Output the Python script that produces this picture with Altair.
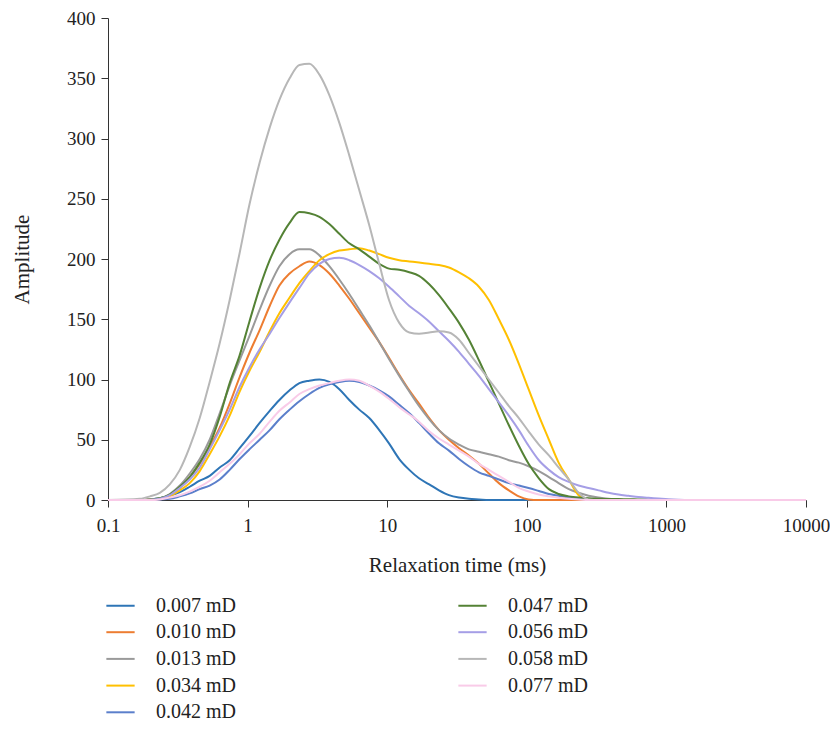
import altair as alt
import pandas as pd

# Shared sample positions along the relaxation-time axis (ms)
relaxation_time = [0.1, 0.169, 0.2, 0.235, 0.277, 0.327, 0.385, 0.454, 0.535, 0.631,
                   0.744, 0.877, 1.03, 1.22, 1.44, 1.69, 2.0, 2.35, 2.77, 3.27,
                   3.85, 4.54, 5.35, 6.31, 7.44, 8.77, 10.3, 12.2, 14.4, 16.9,
                   20.0, 23.5, 27.7, 32.7, 38.5, 45.4, 53.5, 63.1, 74.4, 87.7,
                   103, 122, 144, 169, 200, 235, 277, 327, 385, 454,
                   535, 631, 744, 877, 1030, 1220, 1440, 10000]

series_labels = ["0.007 mD", "0.010 mD", "0.013 mD", "0.034 mD", "0.042 mD",
                 "0.047 mD", "0.056 mD", "0.058 mD", "0.077 mD"]
series_colors = ["#2E75B6", "#ED7D31", "#9A9A9A", "#FFC000", "#5B7FCB",
                 "#548235", "#A59EE6", "#B7B7B7", "#F9CBE8"]

amp_0007 = [0, 0, 0.5, 1.5, 3.5, 6.5, 11, 16, 20, 27,
            33, 43, 53, 64, 74, 83, 91, 97, 99, 100,
            98, 92, 83, 75, 68, 58, 47, 34, 25, 18,
            13, 8, 4, 2, 1, 0.5, 0, 0, 0, 0,
            0, 0, 0, 0, 0, 0, 0, 0, 0, 0,
            0, 0, 0, 0, 0, 0, 0, 0]
amp_0010 = [0, 0, 0.3, 1, 4, 10, 19, 30, 44, 60,
            80, 102, 122, 141, 161, 178, 188, 194, 198, 195,
            188, 178, 167, 155, 143, 131, 118, 104, 91, 80,
            68, 58, 50, 43, 37, 30, 22, 14, 8, 3,
            0.5, 0, 0, 0, 0, 0, 0, 0, 0, 0,
            0, 0, 0, 0, 0, 0, 0, 0]
amp_0013 = [0, 0, 0.5, 1.5, 5, 12, 22, 34, 50, 72,
            95, 116, 136, 158, 178, 194, 204, 208, 208, 203,
            194, 183, 171, 158, 145, 131, 117, 103, 90, 78,
            67, 58, 51, 46, 42, 40, 38, 36, 33, 31,
            28, 24, 19, 14, 9, 6, 3.5, 2, 1, 0.5,
            0, 0, 0, 0, 0, 0, 0, 0]
amp_0034 = [0, 0, 0.3, 1, 3, 8, 14, 24, 38, 53,
            70, 90, 107, 123, 140, 155, 168, 180, 190, 199,
            204, 207, 208, 209, 207, 204, 201, 199, 198, 197,
            196, 195, 193, 189, 184, 177, 166, 150, 133, 113,
            92, 70, 50, 31, 17, 4, 0.5, 0, 0, 0,
            0, 0, 0, 0, 0, 0, 0, 0]
amp_0042 = [0, 0, 0, 0.5, 1, 3, 5.5, 9, 12, 17,
            25, 34, 42, 50, 58, 67, 75, 82, 88, 93,
            96, 98, 99, 98, 95, 91, 86, 79, 72, 64,
            55, 47, 41, 34, 28, 23, 20, 17, 14, 12,
            10, 7.5, 5, 3.5, 2, 1, 0.5, 0, 0, 0,
            0, 0, 0, 0, 0, 0, 0, 0]
amp_0047 = [0, 0, 0.5, 1.5, 4.5, 11, 19, 31, 46, 69,
            97, 120, 148, 176, 199, 216, 230, 239, 238, 235,
            229, 221, 213, 208, 202, 196, 192, 191, 189, 186,
            179, 170, 159, 147, 133, 116, 98, 80, 62, 45,
            30, 18, 9, 5, 3, 2, 1.5, 1, 0.9, 0.8,
            0.6, 0.5, 0.3, 0.2, 0, 0, 0, 0]
amp_0056 = [0, 0, 0.3, 1, 4, 10, 17, 27, 42, 58,
            75, 94, 110, 125, 138, 151, 164, 176, 188, 196,
            200, 201, 199, 195, 190, 184, 177, 169, 161, 155,
            148, 140, 132, 123, 113, 103, 92, 81, 70, 58,
            45, 33, 25, 19, 15, 12, 10, 8, 6, 4.5,
            3.5, 2.5, 1.8, 1.2, 0.6, 0.2, 0, 0]
amp_0058 = [0, 1, 3, 6, 13, 25, 44, 68, 98, 130,
            166, 205, 245, 280, 309, 332, 350, 361, 362, 353,
            336, 313, 286, 257, 228, 196, 166, 147, 139, 138,
            139, 140, 139, 133, 122, 111, 100, 89, 78, 68,
            57, 46, 37, 27, 17, 6, 0.5, 0, 0, 0,
            0, 0, 0, 0, 0, 0, 0, 0]
amp_0077 = [0, 0, 0, 0.5, 2, 4, 7, 11, 16, 23,
            30, 38, 47, 55, 65, 74, 81, 88, 92, 95,
            97, 99, 100, 99, 95, 90, 84, 77, 71, 65,
            57, 51, 46, 41, 36, 30, 25, 20, 15, 10,
            7, 4.5, 3, 1.8, 1, 0.5, 0, 0, 0, 0,
            0, 0, 0, 0, 0, 0, 0, 0]

series_values = [amp_0007, amp_0010, amp_0013, amp_0034, amp_0042,
                 amp_0047, amp_0056, amp_0058, amp_0077]

rows = []
for label, values in zip(series_labels, series_values):
    for t, a in zip(relaxation_time, values):
        rows.append({"t": t, "amp": a, "series": label})
df = pd.DataFrame(rows)

FONT = "Liberation Serif"

chart = alt.Chart(df).mark_line(strokeWidth=2, interpolate="monotone").encode(
    x=alt.X("t:Q",
            scale=alt.Scale(type="log", domain=[0.1, 10000]),
            axis=alt.Axis(values=[0.1, 1, 10, 100, 1000, 10000], format="~g",
                          labelFlush=False, labelPadding=9,
                          title="Relaxation time (ms)", titlePadding=19)),
    y=alt.Y("amp:Q",
            scale=alt.Scale(domain=[0, 400]),
            axis=alt.Axis(values=list(range(0, 401, 50)), title="Amplitude",
                          titlePadding=34)),
    color=alt.Color("series:N",
                    scale=alt.Scale(domain=series_labels, range=series_colors),
                    legend=alt.Legend(orient="none", legendX=-3, legendY=572,
                                      columns=2, columnPadding=218, rowPadding=0.7,
                                      symbolType="stroke", symbolSize=800,
                                      symbolStrokeWidth=2, labelFont=FONT,
                                      labelFontSize=20, labelColor="#222",
                                      labelOffset=20, title=None)),
).properties(
    width=698, height=482,
    padding={"left": 100, "top": 10, "right": 24, "bottom": 221},
    autosize=alt.AutoSizeParams(type="none"),
).configure_view(
    stroke=None
).configure_axis(
    grid=False, domainColor="#333", tickColor="#333", tickSize=7,
    labelFont=FONT, labelFontSize=19, labelColor="#222", labelPadding=6,
    titleFont=FONT, titleFontSize=21, titleFontWeight="normal", titleColor="#222",
)

chart.save("out.html", embed_options={"renderer": "svg", "actions": False})
